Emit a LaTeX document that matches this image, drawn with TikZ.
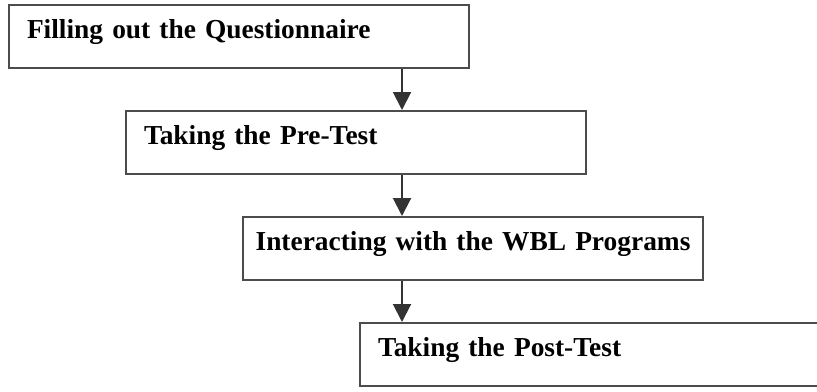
\documentclass[tikz,border=0pt]{standalone}
\usepackage{fontspec}
\setmainfont{Liberation Serif}
\usetikzlibrary{positioning,arrows.meta}

\begin{document}
\begin{tikzpicture}[
        stage/.style={draw=black!70, line width=1pt, anchor=north west,
            inner xsep=9pt, inner ysep=0pt, text width=212pt, align=left,
            text height=16.5pt, text depth=15pt,
            font=\fontsize{13.7pt}{16pt}\selectfont\bfseries},
        flow/.style={line width=1pt, black!80, -{Triangle[width=9pt, length=9pt]}}
    ]
    \useasboundingbox (0pt,0pt) rectangle (408.5pt,-195.5pt);

    \node[stage] (questionnaire) at (4pt,-2pt) {Filling out the Questionnaire};
    \node[stage, below=20.5pt of questionnaire.south west, anchor=north west, xshift=58.5pt]
        (pre test) {Taking the Pre-Test};
    \node[stage, below=20.5pt of pre test.south west, anchor=north west, xshift=58.5pt,
        inner xsep=2pt, text width=226pt, align=center]
        (wbl) {Interacting with the WBL Programs};
    \node[stage, below=20.5pt of wbl.south west, anchor=north west, xshift=58.5pt]
        (post test) {Taking the Post-Test};

    \coordinate (axis) at (201pt,0pt);
    \foreach \a/\b in {questionnaire/pre test, pre test/wbl, wbl/post test}
        \draw[flow] (\a.south -| axis) -- (\b.north -| axis);
\end{tikzpicture}
\end{document}
